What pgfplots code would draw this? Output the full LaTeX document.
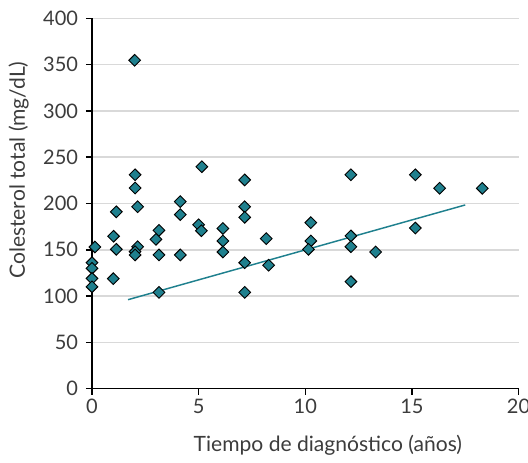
\documentclass[border=0pt]{standalone}
\usepackage{pgfplots}
\pgfplotsset{compat=1.18}
\usepackage{fontspec}
\setmainfont{Lato}
\definecolor{teal1}{RGB}{31,128,142}
\definecolor{gridg}{RGB}{217,217,217}
\definecolor{txt}{RGB}{60,60,60}
\begin{document}
\begin{tikzpicture}[x=1pt,y=1pt]
\path[use as bounding box] (-69pt,-55pt) rectangle (327pt,291.5pt);
\begin{axis}[
  at={(0pt,0pt)}, anchor=origin,
  scale only axis,
  width=319.9pt, height=277.8pt,
  xmin=0, xmax=20, ymin=0, ymax=400,
  xtick={0,5,10,15,20}, ytick={0,50,...,400},
  axis x line*=bottom, axis y line*=left,
  axis line style={black, line width=1.1pt, -},
  tick style={black, line width=1.1pt},
  tick align=outside, major tick length=4.5pt,
  ymajorgrids, grid style={gridg, line width=1.1pt},
  /pgf/number format/assume math mode=true,
  tick label style={font=\fontsize{15}{15}\selectfont, text=txt},
  yticklabel style={xshift=-2.5pt},
  every axis y label/.style={at={(axis description cs:-0.172,0.59)},rotate=90,anchor=center},
  every axis x label/.style={at={(axis description cs:0.553,-0.152)},anchor=center},
  label style={font=\fontsize{15.8}{16}\selectfont, text=txt},
  xlabel={Tiempo de diagnóstico (años)},
  ylabel={Colesterol total (mg/dL)},
  clip=false,
]
\addplot[only marks, mark=square*, mark size=3.1pt, mark options={rotate=45, fill=teal1, draw=black, line width=0.7pt}] coordinates {
(0.14,153) (0.0,136) (0.0,130) (0.0,119) (0.0,110)
(1.14,191) (1.01,164.6) (1.14,150.5) (1.0,118.8)
(2.0,354.6) (2.02,231) (2.02,216.7) (2.14,196.5) (2.14,153.3) (2.02,148) (2.02,144.4)
(3.14,171) (3.0,161.3) (3.14,144.4) (3.14,104)
(4.14,202) (4.14,188) (4.14,144.4)
(5.15,239.7) (5.0,177) (5.13,170.6)
(6.14,173) (6.14,159.5) (6.14,147.6)
(7.16,225.4) (7.16,196.5) (7.16,185) (7.16,136) (7.16,104)
(8.17,162) (8.28,133.3)
(10.26,179.3) (10.26,159.5) (10.15,150.5)
(12.14,231) (12.14,165) (12.14,153.3) (12.14,115.6)
(13.3,147.6)
(15.16,231) (15.16,173.5)
(16.3,216.4)
(18.3,216.4)
};
\addplot[teal1, line width=1.1pt] coordinates {(1.69,96.1) (17.5,198.4)};
\end{axis}
\end{tikzpicture}
\end{document}
